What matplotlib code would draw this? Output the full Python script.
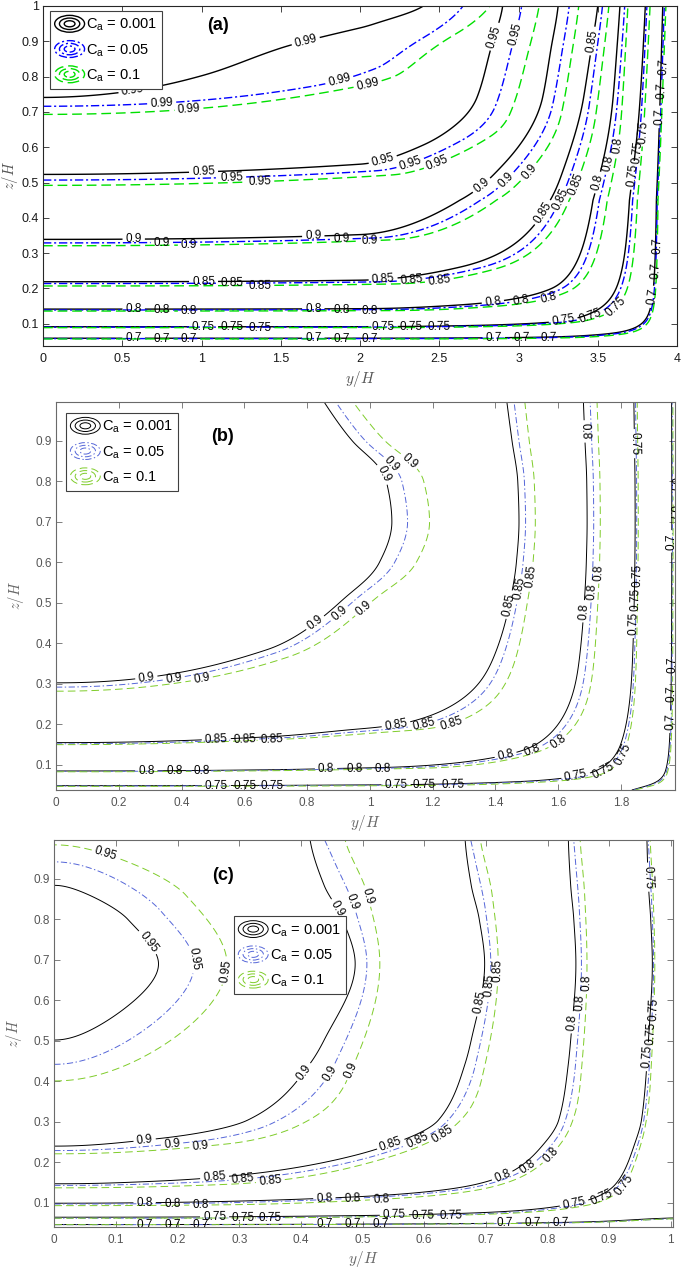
import numpy as np
import matplotlib
matplotlib.use('Agg')
import matplotlib.pyplot as plt
from matplotlib.lines import Line2D
from matplotlib.patches import Ellipse
from matplotlib.legend_handler import HandlerBase
from matplotlib.ticker import FuncFormatter

plt.rcParams['font.family'] = ['Liberation Sans', 'DejaVu Sans']
plt.rcParams['lines.scale_dashes'] = False

# ---------------- data ----------------
# every series: value along the left edge (y=0) at heights z,
# and values along one or two rows (crossing points of the contour levels)
CA_LABELS = ['0.001', '0.05', '0.1']

# panel (a)
A_LEVELS = [0.7, 0.75, 0.8, 0.85, 0.9, 0.95, 0.99]
A_ZMID, A_ZTOP = 0.45, 1.0
a_z_k = [0.037, 0.059, 0.0915, 0.1415, 0.219, 0.339, 0.523, 0.741, 0.88, 1.0]
a_u_k = [0.665, 0.70, 0.75, 0.80, 0.85, 0.90, 0.95, 0.99, 0.995, 0.9995]
a_z_b = [0.037, 0.058, 0.0905, 0.139, 0.214, 0.329, 0.507, 0.716, 0.87, 1.0]
a_u_b = [0.665, 0.70, 0.75, 0.80, 0.85, 0.90, 0.95, 0.99, 0.9955, 0.9993]
a_z_g = [0.037, 0.057, 0.089, 0.136, 0.207, 0.321, 0.492, 0.693, 0.86, 1.0]
a_u_g = [0.665, 0.70, 0.75, 0.80, 0.85, 0.90, 0.95, 0.99, 0.9955, 0.9992]
# top row z = 1
a_yt_k = [1.0, 2.09, 2.40, 2.90, 3.25, 3.50, 3.64, 3.80, 3.91, 4.0]
a_ut_k = [0.9963, 0.9913, 0.99, 0.95, 0.90, 0.85, 0.80, 0.75, 0.70, 0.62]
a_yt_b = [1.7, 2.4, 2.65, 3.02, 3.32, 3.53, 3.67, 3.81, 3.92, 4.0]
a_ut_b = [0.9982, 0.9945, 0.99, 0.95, 0.90, 0.85, 0.80, 0.75, 0.70, 0.62]
a_yt_g = [2.0, 2.6, 2.82, 3.13, 3.38, 3.57, 3.69, 3.83, 3.93, 4.0]
a_ut_g = [0.9988, 0.995, 0.99, 0.95, 0.90, 0.85, 0.80, 0.75, 0.70, 0.62]
# mid row z = 0.45
a_ym_k = [2.0, 2.63, 3.20, 3.47, 3.70, 3.87, 4.0]
a_um_k = [0.927, 0.90, 0.85, 0.80, 0.75, 0.70, 0.60]
a_ym_b = [2.1, 2.76, 3.26, 3.51, 3.72, 3.875, 4.0]
a_um_b = [0.930, 0.90, 0.85, 0.80, 0.75, 0.70, 0.60]
a_ym_g = [2.2, 2.86, 3.32, 3.56, 3.75, 3.88, 4.0]
a_um_g = [0.932, 0.90, 0.85, 0.80, 0.75, 0.70, 0.60]

# panel (b)
B_LEVELS = [0.7, 0.75, 0.8, 0.85, 0.9]
B_ZROW = 0.70
b_z_k = [0.038, 0.0487, 0.085, 0.155, 0.3026, 0.377, 0.5, 0.6, 0.7, 0.8, 0.9, 0.996]
b_u_k = [0.735, 0.75, 0.80, 0.85, 0.90, 0.911, 0.9225, 0.9285, 0.931, 0.9298, 0.9245, 0.920]
b_z_b = [0.038, 0.048, 0.084, 0.152, 0.292, 0.37, 0.5, 0.6, 0.7, 0.8, 0.9, 0.996]
b_u_b = [0.735, 0.75, 0.80, 0.85, 0.90, 0.9115, 0.923, 0.929, 0.9315, 0.9303, 0.925, 0.9205]
b_z_g = [0.038, 0.047, 0.083, 0.150, 0.282, 0.36, 0.5, 0.6, 0.7, 0.8, 0.9, 0.996]
b_u_g = [0.735, 0.75, 0.80, 0.85, 0.90, 0.912, 0.9235, 0.9295, 0.932, 0.9308, 0.9255, 0.921]
b_y_k = [0.67, 0.92, 1.07, 1.475, 1.692, 1.845, 1.962, 1.972]
b_r_k = [0.9175, 0.9065, 0.90, 0.85, 0.80, 0.75, 0.70, 0.68]
b_y_b = [0.70, 0.96, 1.12, 1.496, 1.713, 1.85, 1.964, 1.972]
b_r_b = [0.9175, 0.9065, 0.90, 0.85, 0.80, 0.75, 0.70, 0.68]
b_y_g = [0.74, 1.02, 1.19, 1.527, 1.734, 1.855, 1.966, 1.972]
b_r_g = [0.9175, 0.9065, 0.90, 0.85, 0.80, 0.75, 0.70, 0.68]

# panel (c)
C_LEVELS = [0.7, 0.75, 0.8, 0.85, 0.9, 0.95]
C_ZROW = 0.69
c_z_k = [0.0395, 0.0463, 0.0644, 0.099, 0.147, 0.240, 0.304, 0.444, 0.502, 0.69, 0.80, 0.884, 0.996]
c_u_k = [0.685, 0.70, 0.75, 0.80, 0.85, 0.90, 0.926, 0.945, 0.95, 0.962, 0.957, 0.95, 0.945]
c_z_b = [0.0395, 0.046, 0.062, 0.097, 0.143, 0.229, 0.295, 0.385, 0.442, 0.69, 0.82, 0.942, 0.996]
c_u_b = [0.685, 0.70, 0.75, 0.80, 0.85, 0.90, 0.927, 0.944, 0.95, 0.964, 0.959, 0.95, 0.946]
c_z_g = [0.0395, 0.046, 0.062, 0.093, 0.137, 0.221, 0.285, 0.345, 0.401, 0.69, 0.86, 0.984, 0.996]
c_u_g = [0.685, 0.70, 0.75, 0.80, 0.85, 0.90, 0.928, 0.943, 0.95, 0.966, 0.96, 0.95, 0.9493]
c_y_k = [0.169, 0.488, 0.698, 0.846, 0.970, 1.004]
c_r_k = [0.95, 0.90, 0.85, 0.80, 0.75, 0.745]
c_y_b = [0.227, 0.507, 0.708, 0.855, 0.972, 1.004]
c_r_b = [0.95, 0.90, 0.85, 0.80, 0.75, 0.745]
c_y_g = [0.28, 0.528, 0.720, 0.864, 0.974, 1.004]
c_r_g = [0.95, 0.90, 0.85, 0.80, 0.75, 0.745]


# ---------------- field built from the profiles ----------------
def pchip(x, y, xq, flat_start=False, flat_end=False):
    x = np.asarray(x, float)
    y = np.asarray(y, float)
    h = np.diff(x)
    dl = np.diff(y) / h
    n = len(x)
    d = np.zeros(n)
    for k in range(1, n - 1):
        if dl[k - 1] * dl[k] > 0:
            w1 = 2 * h[k] + h[k - 1]
            w2 = h[k] + 2 * h[k - 1]
            d[k] = (w1 + w2) / (w1 / dl[k - 1] + w2 / dl[k])

    def end(h0, h1, d0, d1):
        s = ((2 * h0 + h1) * d0 - h0 * d1) / (h0 + h1)
        if np.sign(s) != np.sign(d0):
            s = 0.0
        elif np.sign(d0) != np.sign(d1) and abs(s) > abs(3 * d0):
            s = 3 * d0
        return s
    d[0] = 0.0 if flat_start else end(h[0], h[1], dl[0], dl[1])
    d[-1] = 0.0 if flat_end else end(h[-1], h[-2], dl[-1], dl[-2])
    xq = np.clip(xq, x[0], x[-1])
    i = np.clip(np.searchsorted(x, xq) - 1, 0, n - 2)
    t = (xq - x[i]) / h[i]
    return ((2 * t**3 - 3 * t**2 + 1) * y[i] + (t**3 - 2 * t**2 + t) * h[i] * d[i]
            + (-2 * t**3 + 3 * t**2) * y[i + 1] + (t**3 - t**2) * h[i] * d[i + 1])


def combine(da, db):
    p = 1 + 12.0 * (da + db)**2
    return (da**p + db**p)**(1 / p)


def invert(dref, d):
    lo = np.zeros_like(d)
    hi = d.copy()
    for _ in range(50):
        mid = (lo + hi) / 2
        f = combine(dref, mid)
        lo = np.where(f < d, mid, lo)
        hi = np.where(f < d, hi, mid)
    return (lo + hi) / 2


def field(Y, Z, zA, uA, rows, flat_top):
    dA = np.clip(1 - pchip(zA, uA, Z, flat_end=flat_top), 0, None)
    prof = []
    for zr, yr, ur in rows:
        dref = float(1 - pchip(zA, uA, np.array([zr]), flat_end=flat_top)[0])
        dn = invert(dref, 1 - np.asarray(ur, float))
        prof.append((zr, np.clip(pchip([0] + list(yr), np.r_[0.0, dn], Y, flat_start=True), 0, None)))
    if len(prof) == 1:
        dB = prof[0][1]
    else:
        (z1, d1), (z2, d2) = prof
        w = np.clip((Z - z1) / (z2 - z1), 0, 1)
        dB = (1 - w) * d1 + w * d2
    return 1 - combine(dA, dB)


def label_points(ax, cs, first, step=180):
    # labels along each contour line, every `step` pixels, staggered by level
    pts = []
    for lev, segs in enumerate(cs.allsegs):
        start = first + 70 * (lev % 2)
        for seg in segs:
            if len(seg) < 3:
                continue
            dp = ax.transData.transform(seg)
            s = np.concatenate([[0], np.cumsum(np.hypot(*np.diff(dp, axis=0).T))])
            L = s[-1]
            if L < 45:
                continue
            targets = np.arange(start, L - 25, step) if L > start + 25 else [L / 2]
            for t in targets:
                j = min(np.searchsorted(s, t), len(seg) - 1)
                pts.append((seg[j, 0], seg[j, 1]))
    return pts


class HandlerRings(HandlerBase):
    def __init__(self, color, ls, lw):
        super().__init__()
        self.style = (color, ls, lw)

    def create_artists(self, legend, orig_handle, xdescent, ydescent,
                       width, height, fontsize, trans):
        color, ls, lw = self.style
        cx = -xdescent + width / 2
        cy = -ydescent + height / 2
        arts = []
        for f in (1.0, 0.68, 0.36):
            arts.append(Ellipse((cx, cy), width * f, height * 1.0 * f, fill=False,
                                edgecolor=color, linestyle=ls, lw=lw, transform=trans))
        return arts


W, H = 685, 1267
fig = plt.figure(figsize=(W / 100, H / 100), dpi=100)


def px_axes(l, t, r, b):
    return fig.add_axes([l / W, 1 - b / H, (r - l) / W, (b - t) / H])


fmt = FuncFormatter(lambda v, pos: '%g' % round(v, 3))

panels = [
    dict(rect=(43, 6, 677, 346), xlim=(0, 4.0), ylim=(0.037, 1.0), levels=A_LEVELS,
         series=[(a_z_k, a_u_k, [(A_ZMID, a_ym_k, a_um_k), (A_ZTOP, a_yt_k, a_ut_k)]),
                 (a_z_b, a_u_b, [(A_ZMID, a_ym_b, a_um_b), (A_ZTOP, a_yt_b, a_ut_b)]),
                 (a_z_g, a_u_g, [(A_ZMID, a_ym_g, a_um_g), (A_ZTOP, a_yt_g, a_ut_g)])],
         flat_top=True, xticks=np.arange(0, 4.01, 0.5), yticks=np.arange(0.1, 1.01, 0.1),
         colors=['black', '#0000ff', '#00e000'],
         ls=['solid', (0, (6, 2, 1.5, 2)), (0, (7, 3.5))], lw=1.0,
         spine='#262626', tickc='#1a1a1a', fs=9, lfs=8.5,
         leg=(50, 10.7), tag='(a)', tagpos=(218, 26), labc='#555555',
         xlab=-0.068, ylab=-0.036),
    dict(rect=(56, 402, 675, 790), xlim=(0, 1.972), ylim=(0.038, 0.996), levels=B_LEVELS,
         series=[(b_z_k, b_u_k, [(B_ZROW, b_y_k, b_r_k)]),
                 (b_z_b, b_u_b, [(B_ZROW, b_y_b, b_r_b)]),
                 (b_z_g, b_u_g, [(B_ZROW, b_y_g, b_r_g)])],
         flat_top=False, xticks=np.arange(0, 1.81, 0.2), yticks=np.arange(0.1, 0.91, 0.1),
         colors=['black', '#5566d8', '#7fcc2a'],
         ls=['solid', (0, (4.5, 1.8, 1, 1.8)), (0, (5.5, 3))], lw=0.7,
         spine='#6a6a6a', tickc='#555555', fs=8.5, lfs=8.5,
         leg=(65.7, 412.7), tag='(b)', tagpos=(223, 436), labc='#666666',
         xlab=-0.058, ylab=-0.048),
    dict(rect=(54.3, 840, 673.3, 1227.3), xlim=(0, 1.004), ylim=(0.0395, 0.996), levels=C_LEVELS,
         series=[(c_z_k, c_u_k, [(C_ZROW, c_y_k, c_r_k)]),
                 (c_z_b, c_u_b, [(C_ZROW, c_y_b, c_r_b)]),
                 (c_z_g, c_u_g, [(C_ZROW, c_y_g, c_r_g)])],
         flat_top=False, xticks=np.arange(0, 1.001, 0.1), yticks=np.arange(0.1, 0.91, 0.1),
         colors=['black', '#5566d8', '#7fcc2a'],
         ls=['solid', (0, (4.5, 1.8, 1, 1.8)), (0, (5.5, 3))], lw=0.7,
         spine='#6a6a6a', tickc='#555555', fs=8.5, lfs=8.5,
         leg=(233.6, 916), tag='(c)', tagpos=(223, 875), labc='#666666',
         xlab=-0.056, ylab=-0.049),
]

FIRST = [90, 118, 146]

for P in panels:
    ax = px_axes(*P['rect'])
    ax.set_xlim(*P['xlim'])
    ax.set_ylim(*P['ylim'])
    yv = np.linspace(P['xlim'][0], P['xlim'][1], 700)
    zv = np.linspace(P['ylim'][0], P['ylim'][1], 700)
    Y, Z = np.meshgrid(yv, zv)
    handles = []
    hmap = {}
    for k, (zA, uA, rows) in enumerate(P['series']):
        U = field(Y, Z, zA, uA, rows, P['flat_top'])
        cs = ax.contour(Y, Z, U, levels=P['levels'], colors=[P['colors'][k]],
                        linestyles=[P['ls'][k]], linewidths=P['lw'])
        ax.set_xlim(*P['xlim'])
        ax.set_ylim(*P['ylim'])
        pts = label_points(ax, cs, FIRST[k])
        ax.clabel(cs, fmt='%g', fontsize=P['lfs'], colors='k', inline=True,
                  inline_spacing=3, manual=pts)
        h = Line2D([], [], color=P['colors'][k])
        handles.append(h)
        hmap[h] = HandlerRings(P['colors'][k], P['ls'][k], P['lw'])

    ax.set_xticks(P['xticks'])
    ax.set_yticks(P['yticks'])
    ax.xaxis.set_major_formatter(fmt)
    ax.yaxis.set_major_formatter(fmt)
    ax.tick_params(direction='in', top=True, right=True, length=4, width=0.6,
                   colors=P['spine'], labelcolor=P['tickc'], labelsize=P['fs'])
    ax.tick_params(axis='x', pad=5)
    ax.tick_params(axis='y', pad=3)
    for sp in ax.spines.values():
        sp.set_color(P['spine'])
        sp.set_linewidth(0.8)
    ax.set_xlabel('$y/H$', fontsize=11, color=P['labc'], math_fontfamily='cm')
    ax.set_ylabel('$z/H$', fontsize=10.5, color=P['labc'], math_fontfamily='cm')
    ax.xaxis.set_label_coords(0.5, P['xlab'])
    ax.yaxis.set_label_coords(P['ylab'], 0.5)

    lg = ax.legend(handles, ['C$_\\mathregular{a}$ = ' + s for s in CA_LABELS],
                   handler_map=hmap, loc='upper left',
                   bbox_to_anchor=(P['leg'][0] / W, 1 - P['leg'][1] / H),
                   bbox_transform=fig.transFigure, borderaxespad=0, fontsize=10.5,
                   frameon=True, fancybox=False, framealpha=1, edgecolor='#404040',
                   handlelength=2.05, handleheight=1.4, handletextpad=0.1,
                   labelspacing=0.5, borderpad=0.32)
    lg.get_frame().set_linewidth(0.8)
    fig.text(P['tagpos'][0] / W, 1 - P['tagpos'][1] / H, P['tag'], ha='center',
             va='center', fontsize=13, fontweight='bold')

fig.savefig('out.png', dpi=100)
